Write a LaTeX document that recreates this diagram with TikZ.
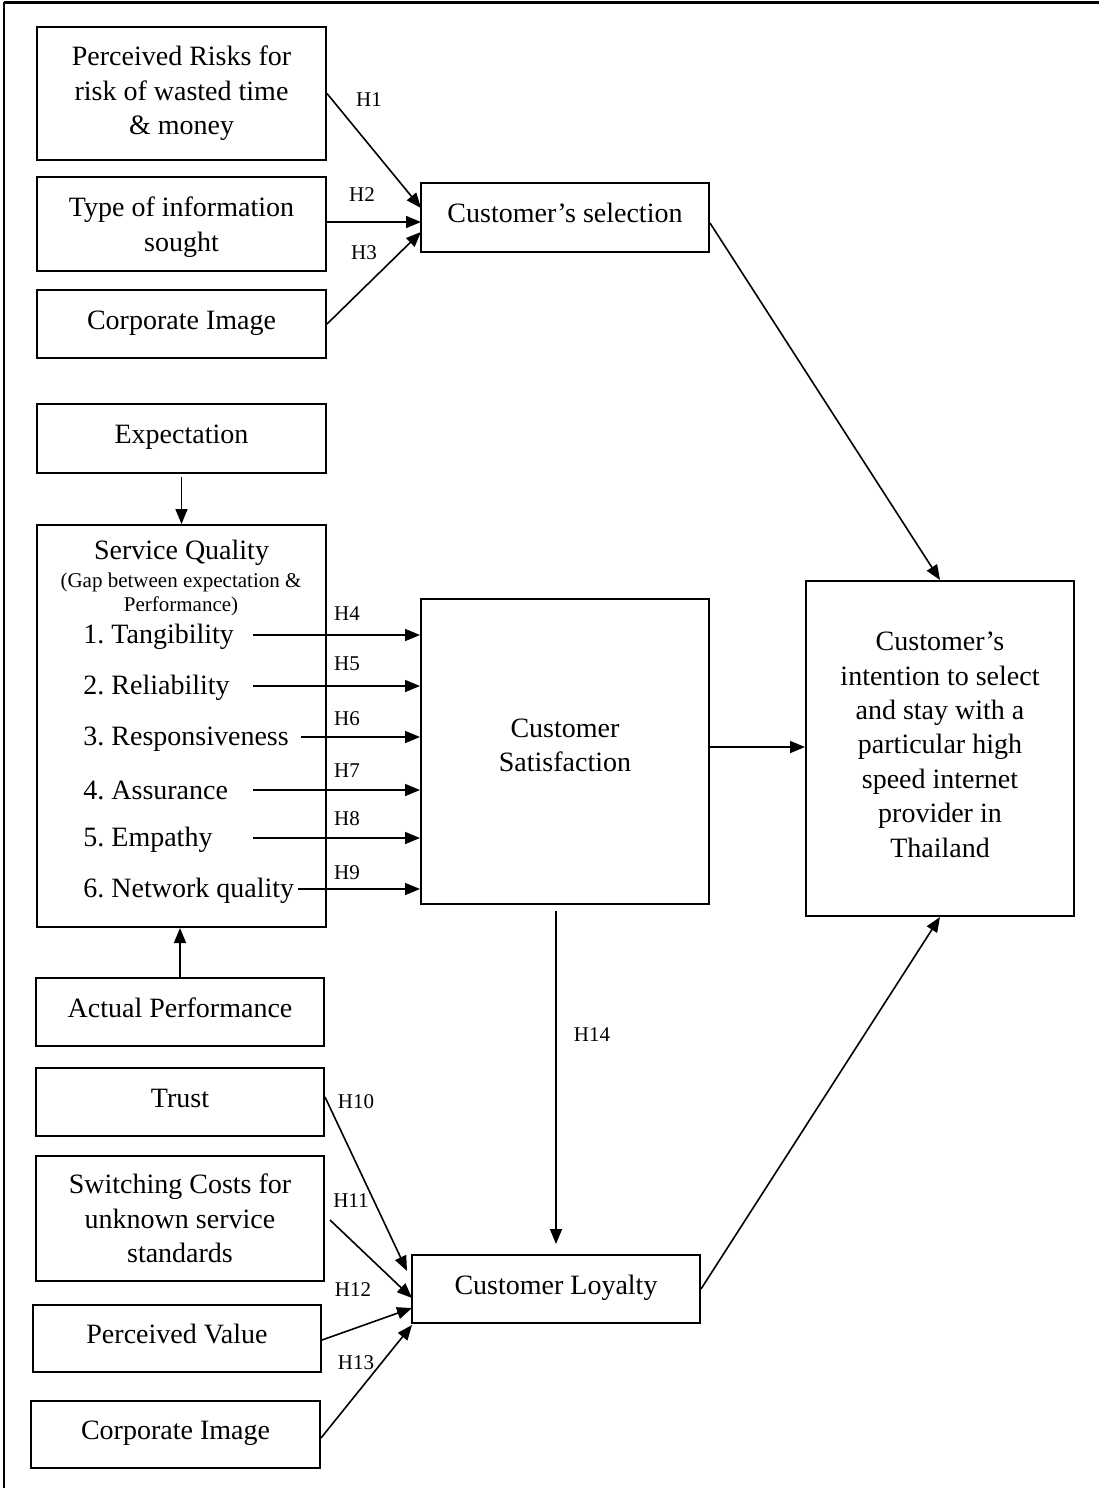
\documentclass[tikz,border=0pt]{standalone}
\usepackage{fontspec}
\setmainfont{Liberation Serif}
\usetikzlibrary{arrows.meta,calc}
\frenchspacing

\begin{document}
\begin{tikzpicture}[x=0.5pt,y=-0.5pt,
  box/.style={draw, line width=1pt, align=center, inner sep=0pt,
    font=\fontsize{14}{17.2}\selectfont},
  one/.style={text height=10pt, text depth=5pt},
  sz/.style 2 args={minimum width={#1*0.5pt}, minimum height={#2*0.5pt}},
  arr/.style={-{Triangle[length=7.5pt,width=6pt]}, line width=0.8pt},
  hlab/.style={font=\fontsize{10.5}{12}\selectfont, inner sep=0pt},
  item/.style={anchor=west, inner sep=0pt, font=\fontsize{14}{17}\selectfont},
  small/.style={font=\fontsize{10.5}{12}\selectfont, align=center, inner sep=0pt}
]
\useasboundingbox (0,0) rectangle (1099,1488);

% outer frame (top and left edges)
\draw[line width=1.5pt] (4,2) -- (1099,2);
\draw[line width=1.1pt] (4,2) -- (4,1488);

% ---------- selection block ----------
\node[box, sz={289}{133}] (risk) at (181.5,93.5) {Perceived Risks for\\risk of wasted time\\\& money};
\node[box, sz={289}{94}, text depth=0pt] (info) at (181.5,224) {Type of information\\sought};
\node[box, one, sz={289}{68}] (corpA) at (181.5,324) {Corporate Image};
\node[box, one, sz={288}{69}] (sel) at (565,217.5) {Customer’s selection};

\coordinate (t1) at (421,208);
\coordinate (t2) at (421,222);
\coordinate (t3) at (421,232);
\draw[arr] (risk.east) -- (t1);
\draw[arr] (info.east |- t2) -- (t2);
\draw[arr] (corpA.east) -- (t3);
\node[hlab] (lH1) at (369,100) {H1};
\node[hlab] (lH2) at (362,195) {H2};
\node[hlab] (lH3) at (364,253) {H3};

% ---------- service quality block ----------
\node[box, one, sz={289}{69}] (expect) at (181.5,438.5) {Expectation};
\node[box, sz={289}{402}] (sq) at (181.5,726) {};
\node[box, one, sz={288}{68}] (actual) at (180,1012) {Actual Performance};

\node[inner sep=0pt, font=\fontsize{14}{17}\selectfont] (sqtitle) at (181.5,553) {Service Quality};
\node[small] (sqgap) at (181,594) {(Gap between expectation \&\\Performance)};

\node[item] (i1) at (83,637) {1. Tangibility};
\node[item] (i2) at (83,688) {2. Reliability};
\node[item] (i3) at (83,739) {3. Responsiveness};
\node[item] (i4) at (83,790) {4. Assurance};
\node[item] (i5) at (83,840) {5. Empathy};
\node[item] (i6) at (83,891) {6. Network quality};

\draw[arr, shorten <=1.5pt] (expect.south) -- (sq.north);
\draw[arr] (actual.north) -- (actual.north |- sq.south);

\node[box, sz={288}{305}, text depth=6pt] (cs) at (565,751.5) {Customer\\Satisfaction};

\coordinate (s1) at (253,635);
\coordinate (s2) at (253,686);
\coordinate (s3) at (301,737);
\coordinate (s4) at (253,790);
\coordinate (s5) at (253,838);
\coordinate (s6) at (298,889);
\foreach \s in {s1,s2,s3,s4,s5,s6}
  \draw[arr] (\s) -- (\s -| cs.west);

\node[hlab] (lH4) at (347,614) {H4};
\node[hlab] (lH5) at (347,664) {H5};
\node[hlab] (lH6) at (347,719) {H6};
\node[hlab] (lH7) at (347,771) {H7};
\node[hlab] (lH8) at (347,819) {H8};
\node[hlab] (lH9) at (347,873) {H9};

% ---------- outcome ----------
\node[box, sz={268}{335}, text depth=4pt] (intent) at (940,748.5)
  {Customer’s\\intention to select\\and stay with a\\particular high\\speed internet\\provider in\\Thailand};

\draw[arr] ([yshift=-2.75pt]sel.east) -- (intent.north);
\draw[arr] (cs.east |- 0,747) -- (intent.west |- 0,747);

% ---------- loyalty block ----------
\node[box, one, sz={288}{68}] (trust) at (180,1102) {Trust};
\node[box, sz={288}{125}, text depth=0pt] (switch) at (180,1218.5) {Switching Costs for\\unknown service\\standards};
\node[box, one, sz={288}{67}] (pval) at (177,1338.5) {Perceived Value};
\node[box, one, sz={289}{67}] (corpB) at (175.5,1434.5) {Corporate Image};
\node[box, one, sz={288}{68}] (loyal) at (556,1289) {Customer Loyalty};

\draw[arr, shorten <=3pt, shorten >=5pt] (loyal.north |- cs.south) -- (loyal.north);
\node[hlab] (lH14) at (592,1035) {H14};

\coordinate (t10) at (407,1271);
\coordinate (t11) at (412,1298);
\coordinate (t12) at (412,1308);
\coordinate (t13) at (412,1325);
\draw[arr] ([yshift=2.5pt]trust.east) -- (t10);
\draw[arr] ([xshift=2.5pt,yshift=-0.75pt]switch.east) -- (t11);
\draw[arr] ([yshift=-0.75pt]pval.east) -- (t12);
\draw[arr] ([yshift=-1.75pt]corpB.east) -- (t13);
\node[hlab] (lH10) at (356,1102) {H10};
\node[hlab] (lH11) at (351,1201) {H11};
\node[hlab] (lH12) at (353,1290) {H12};
\node[hlab] (lH13) at (356,1363) {H13};

\draw[arr] (loyal.east) -- (intent.south);

\end{tikzpicture}
\end{document}
